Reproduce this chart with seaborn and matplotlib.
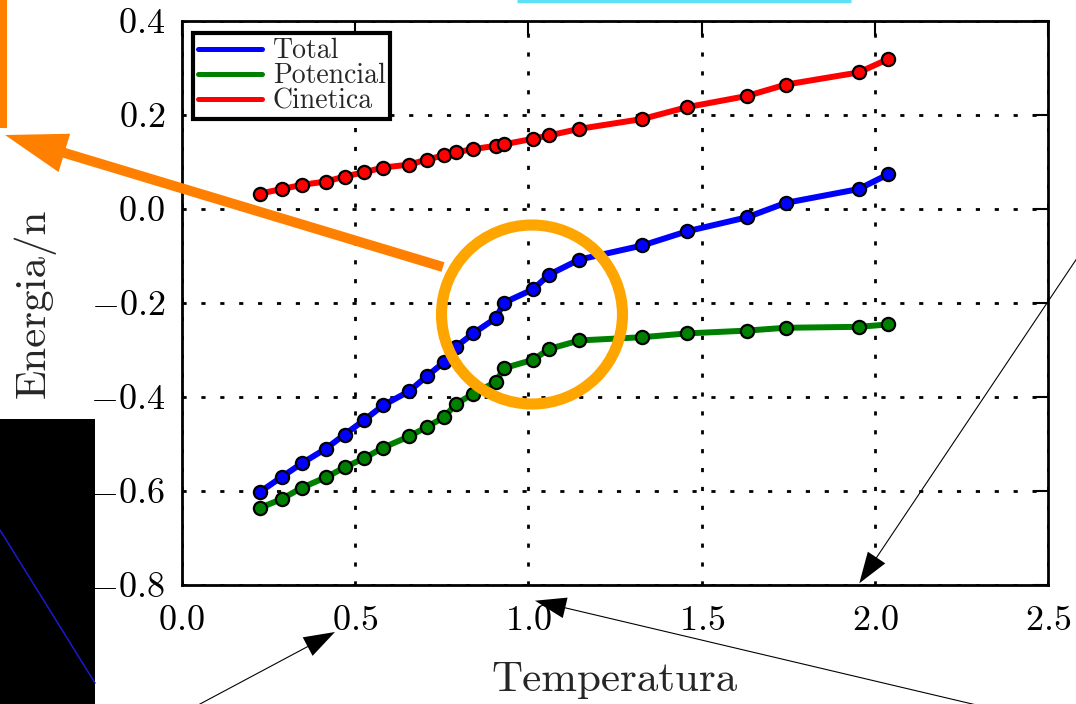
import numpy as np
import pandas as pd
import matplotlib
matplotlib.use("Agg")
import matplotlib.pyplot as plt
import seaborn as sns
from matplotlib.lines import Line2D
from matplotlib.patches import Rectangle, Ellipse, FancyArrow

# ---- data -------------------------------------------------------------
temperatura = [0.226, 0.289, 0.347, 0.416, 0.470, 0.527, 0.581, 0.656, 0.707,
               0.757, 0.790, 0.841, 0.907, 0.929, 1.014, 1.060, 1.147, 1.329,
               1.457, 1.631, 1.742, 1.953, 2.037]

total = [-0.602, -0.570, -0.541, -0.510, -0.480, -0.449, -0.418, -0.388, -0.356,
         -0.326, -0.294, -0.265, -0.232, -0.200, -0.171, -0.140, -0.108, -0.078,
         -0.048, -0.018, 0.0125, 0.042, 0.073]

potencial = [-0.636, -0.617, -0.593, -0.571, -0.550, -0.530, -0.508, -0.484, -0.464,
             -0.443, -0.416, -0.393, -0.368, -0.339, -0.321, -0.298, -0.280, -0.273,
             -0.265, -0.259, -0.253, -0.251, -0.246]

cinetica = [0.0325, 0.042, 0.051, 0.058, 0.0686, 0.078, 0.0877, 0.094, 0.1047,
            0.1138, 0.120, 0.127, 0.134, 0.137, 0.149, 0.156, 0.170, 0.191,
            0.216, 0.240, 0.264, 0.290, 0.318]

series_names = ["Total", "Potencial", "Cinetica"]
series_colors = ["#0000ff", "#008000", "#ff0000"]

x_ticks = [0.0, 0.5, 1.0, 1.5, 2.0, 2.5]
y_ticks = [-0.8, -0.6, -0.4, -0.2, 0.0, 0.2, 0.4]

df = pd.DataFrame({
    "Temperatura": temperatura * 3,
    "Energia": total + potencial + cinetica,
    "serie": sum([[n] * len(temperatura) for n in series_names], []),
})

# ---- style ------------------------------------------------------------
sns.set_style("white")
plt.rcParams["font.family"] = ["cmr10", "DejaVu Serif"]
plt.rcParams["mathtext.fontset"] = "cm"
plt.rcParams["axes.formatter.use_mathtext"] = True
plt.rcParams["axes.unicode_minus"] = True

W, H = 1076, 704
fig = plt.figure(figsize=(W / 100, H / 100), dpi=100)
fig.patch.set_facecolor("white")
ax = fig.add_axes([181.7 / W, 1 - 585 / H, (1048.3 - 181.7) / W, (585 - 20.7) / H])

sns.lineplot(data=df, x="Temperatura", y="Energia", hue="serie",
             hue_order=series_names, palette=series_colors,
             marker="o", markersize=9.5, markeredgecolor="black",
             markeredgewidth=1.6, linewidth=4.3, sort=False,
             estimator=None, legend=False, ax=ax)

ax.set_xlim(0, 2.5)
ax.set_ylim(-0.8, 0.4)
ax.set_xticks(x_ticks)
ax.set_yticks(y_ticks)
ax.grid(True, color="black", linestyle=(0, (1.5, 5.3)), linewidth=2)
ax.set_axisbelow(True)
for s in ax.spines.values():
    s.set_visible(True)
    s.set_color("black")
    s.set_linewidth(2)
ax.tick_params(direction="in", length=11, width=1.5, top=True, right=True,
               labelsize=26, colors="black")
ax.tick_params(axis="x", pad=15)
ax.tick_params(axis="y", pad=12)

ax.set_xlabel("Temperatura", fontsize=31)
ax.set_ylabel("Energia/n", fontsize=31)
ax.xaxis.set_label_coords(0.5, -0.135)
ax.yaxis.set_label_coords(-0.145, 0.5)

handles = [Line2D([], [], color=c, lw=3.6) for c in series_colors]
leg = ax.legend(handles, series_names, loc="upper left",
                bbox_to_anchor=(0.0127, 0.978), borderaxespad=0,
                fontsize=20, labelspacing=-0.05, handlelength=2.3,
                handletextpad=0.4, borderpad=0.18, fancybox=False,
                framealpha=1, edgecolor="black")
leg.get_frame().set_linewidth(3)

# ---- annotation layer in pixel units -----------------------------------
ov = fig.add_axes([0, 0, 1, 1], zorder=5)
ov.set_xlim(0, W)
ov.set_ylim(H, 0)
ov.axis("off")
ov.patch.set_alpha(0)

ov.add_patch(Rectangle((0, 419), 95, 300, color="black", lw=0))
ov.plot([0, 95], [530, 683], color="#1a1ad0", lw=1.1)

ov.add_patch(Rectangle((0, -2), 7, 130, color="#ff8000", lw=0))
ov.add_patch(FancyArrow(443, 267, 5 - 443, 135 - 267, width=10, head_width=40,
                        head_length=62, length_includes_head=True,
                        color="#ff8000", lw=0))
ov.add_patch(Ellipse((532, 314.5), 181, 179, fill=False, lw=8,
                     edgecolor="#ffa500"))

ov.plot([517, 851], [1.2, 1.2], color="#5ce1f6", lw=2.4, solid_capstyle="butt")

for (x0, y0), (x1, y1) in [((1116, 200), (859.3, 583.3)),
                           ((170, 720), (335, 632)),
                           ((1040, 720), (535, 600.7))]:
    ov.add_patch(FancyArrow(x0, y0, x1 - x0, y1 - y0, width=1.1, head_width=21,
                            head_length=31, length_includes_head=True,
                            color="black", lw=0))

fig.savefig("out.png", dpi=100, facecolor="white")
